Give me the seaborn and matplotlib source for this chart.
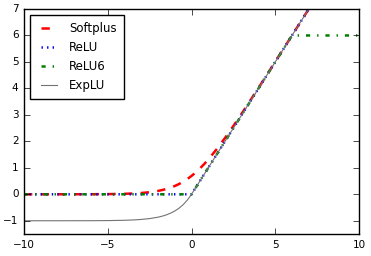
import matplotlib
matplotlib.use("Agg")
import matplotlib.pyplot as plt
import seaborn as sns
import pandas as pd

x = [-10, -8, -6, -5, -4, -3.5, -3, -2.5, -2, -1.75, -1.5, -1.25, -1, -0.75, -0.5, -0.25, 0,
     0.25, 0.5, 0.75, 1, 1.5, 2, 2.5, 3, 4, 5, 6, 7, 8, 10]
softplus = [0.00005, 0.0003, 0.0025, 0.0067, 0.018, 0.030, 0.049, 0.079, 0.127, 0.161, 0.201,
            0.251, 0.313, 0.386, 0.474, 0.576, 0.693, 0.826, 0.974, 1.136, 1.313, 1.701, 2.127,
            2.579, 3.049, 4.018, 5.007, 6.002, 7.001, 8.0, 10.0]
relu = [0, 0, 0, 0, 0, 0, 0, 0, 0, 0, 0, 0, 0, 0, 0, 0, 0,
        0.25, 0.5, 0.75, 1, 1.5, 2, 2.5, 3, 4, 5, 6, 7, 8, 10]
relu6 = [0, 0, 0, 0, 0, 0, 0, 0, 0, 0, 0, 0, 0, 0, 0, 0, 0,
         0.25, 0.5, 0.75, 1, 1.5, 2, 2.5, 3, 4, 5, 6, 6, 6, 6]
elu = [-1.0, -0.9997, -0.9975, -0.993, -0.982, -0.970, -0.950, -0.918, -0.865, -0.826, -0.777,
       -0.713, -0.632, -0.528, -0.393, -0.221, 0,
       0.25, 0.5, 0.75, 1, 1.5, 2, 2.5, 3, 4, 5, 6, 7, 8, 10]

df = pd.DataFrame({"x": x, "Softplus": softplus, "ReLU": relu, "ReLU6": relu6, "ExpLU": elu})

plt.style.use("classic")
plt.rcParams["font.family"] = ["DejaVu Sans"]
plt.rcParams["font.size"] = 7.5

fig = plt.figure(figsize=(3.71, 2.56), dpi=100, facecolor="white")
ax = fig.add_axes([24 / 371, 1 - 234 / 256, (359 - 24) / 371, (234 - 9) / 256])

styles = {
    "Softplus": dict(color="red", linestyle="--", linewidth=1.8),
    "ReLU": dict(color="blue", linestyle=":", linewidth=1.8),
    "ReLU6": dict(color="green", linestyle="-.", linewidth=1.8),
    "ExpLU": dict(color="0.45", linestyle="-", linewidth=0.8),
}
for name, st in styles.items():
    sns.lineplot(data=df, x="x", y=name, ax=ax, label=name, **st)

ax.set_xlim(-10, 10)
ax.set_ylim(-1.5, 7)
ax.set_xticks([-10, -5, 0, 5, 10])
ax.set_yticks([-1, 0, 1, 2, 3, 4, 5, 6, 7])
ax.set_xlabel("")
ax.set_ylabel("")
ax.tick_params(labelsize=7.5)
leg = ax.legend(loc="upper left", fontsize=8.5, frameon=True, fancybox=False,
                handlelength=2.0, labelspacing=0.5, borderpad=0.6, handletextpad=0.7)
leg.get_frame().set_edgecolor("black")
fig.savefig("out.png", dpi=100, facecolor="white")
